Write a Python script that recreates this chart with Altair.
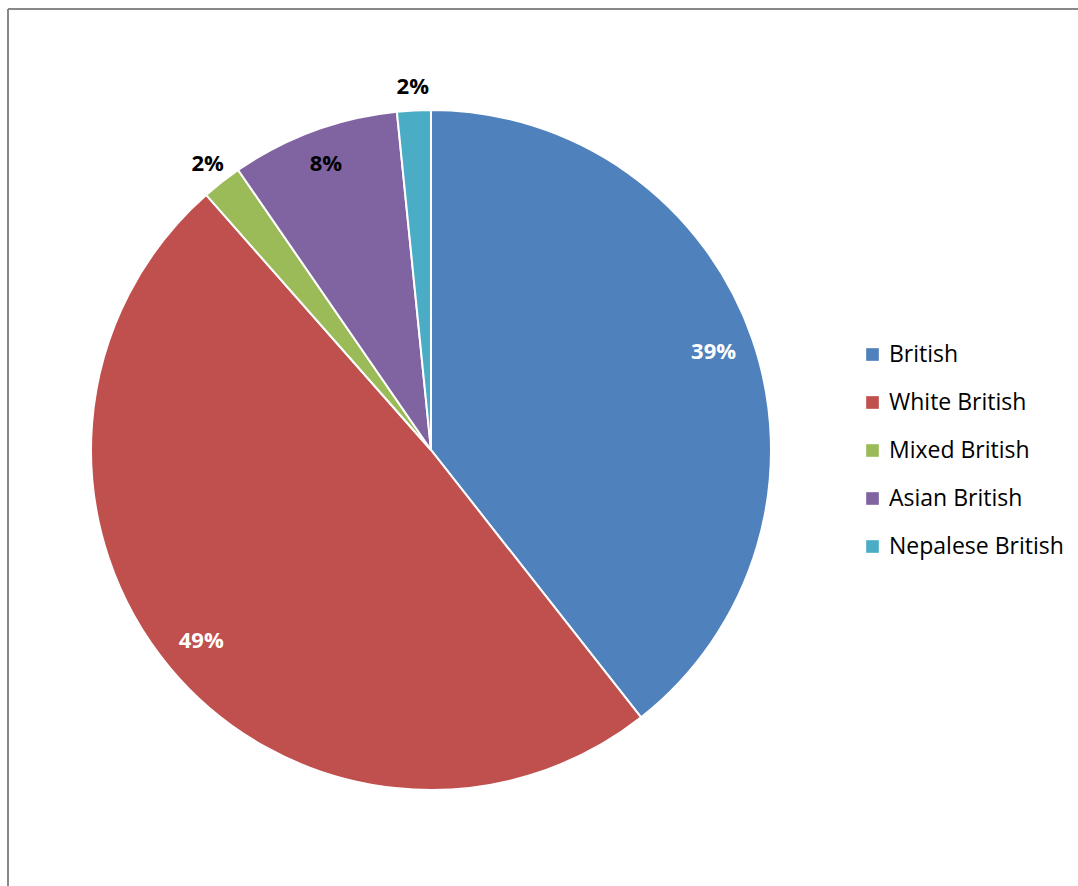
import altair as alt
import pandas as pd

categories = ["British", "White British", "Mixed British", "Asian British", "Nepalese British"]
values = [39.4, 49.1, 1.9, 8.0, 1.6]
labels = ["39%", "49%", "2%", "8%", "2%"]
colors = ["#4F81BD", "#C0504D", "#9BBB59", "#8064A2", "#4BACC6"]

df = pd.DataFrame({"category": categories, "value": values, "label": labels, "idx": list(range(len(categories)))})

CX, CY, R = 431, 450, 340
FONT = "Open Sans"
LBL = 22

theta = alt.Theta("value:Q", stack=True)
order = alt.Order("idx:Q", sort="ascending")
base = alt.Chart(df).encode(theta=theta, order=order)

shadow = alt.Chart(alt.Data(values=[{"v": 1}])).mark_arc(
    radius=R + 1, color="#000000", opacity=0.2
).encode(theta=alt.Theta("v:Q"), x=alt.value(CX + 2), y=alt.value(CY + 3))

pie = base.mark_arc(radius=R, stroke="white", strokeWidth=2).encode(
    x=alt.value(CX),
    y=alt.value(CY),
    color=alt.Color(
        "category:N",
        scale=alt.Scale(domain=categories, range=colors),
        legend=alt.Legend(
            title=None,
            orient="none",
            legendX=861,
            legendY=343,
            symbolType="square",
            symbolSize=160,
            symbolStrokeWidth=0,
            labelFontSize=23,
            labelFont=FONT,
            labelColor="black",
            labelOffset=5,
            labelLimit=400,
            rowPadding=24,
        ),
    ),
)

inside_white = base.mark_text(
    radius=299, fontSize=LBL, fontWeight="bold", font=FONT, color="white"
).encode(
    x=alt.value(CX), y=alt.value(CY),
    text=alt.condition(alt.datum.value > 20, alt.Text("label:N"), alt.value("")),
)
inside_black = base.mark_text(
    radius=305, fontSize=LBL, fontWeight="bold", font=FONT, color="black"
).encode(
    x=alt.value(CX), y=alt.value(CY),
    text=alt.condition((alt.datum.value > 5) & (alt.datum.value < 20), alt.Text("label:N"), alt.value("")),
)
outside_black = base.mark_text(
    radius=363, fontSize=LBL, fontWeight="bold", font=FONT, color="black"
).encode(
    x=alt.value(CX), y=alt.value(CY),
    text=alt.condition(alt.datum.value < 5, alt.Text("label:N"), alt.value("")),
)

frame_data = alt.Data(values=[{"a": 1}])
left_rule = alt.Chart(frame_data).mark_rule(color="#888888", strokeWidth=2).encode(
    x=alt.value(8), y=alt.value(9), y2=alt.value(886)
)
top_rule = alt.Chart(frame_data).mark_rule(color="#888888", strokeWidth=2).encode(
    x=alt.value(8), x2=alt.value(1078), y=alt.value(9)
)

chart = alt.layer(
    shadow, pie, inside_white, inside_black, outside_black, left_rule, top_rule
).properties(
    width=1078, height=886, autosize="none", padding=0
).configure_view(stroke=None)

chart.save("out.html", embed_options={"renderer": "svg", "actions": False})
